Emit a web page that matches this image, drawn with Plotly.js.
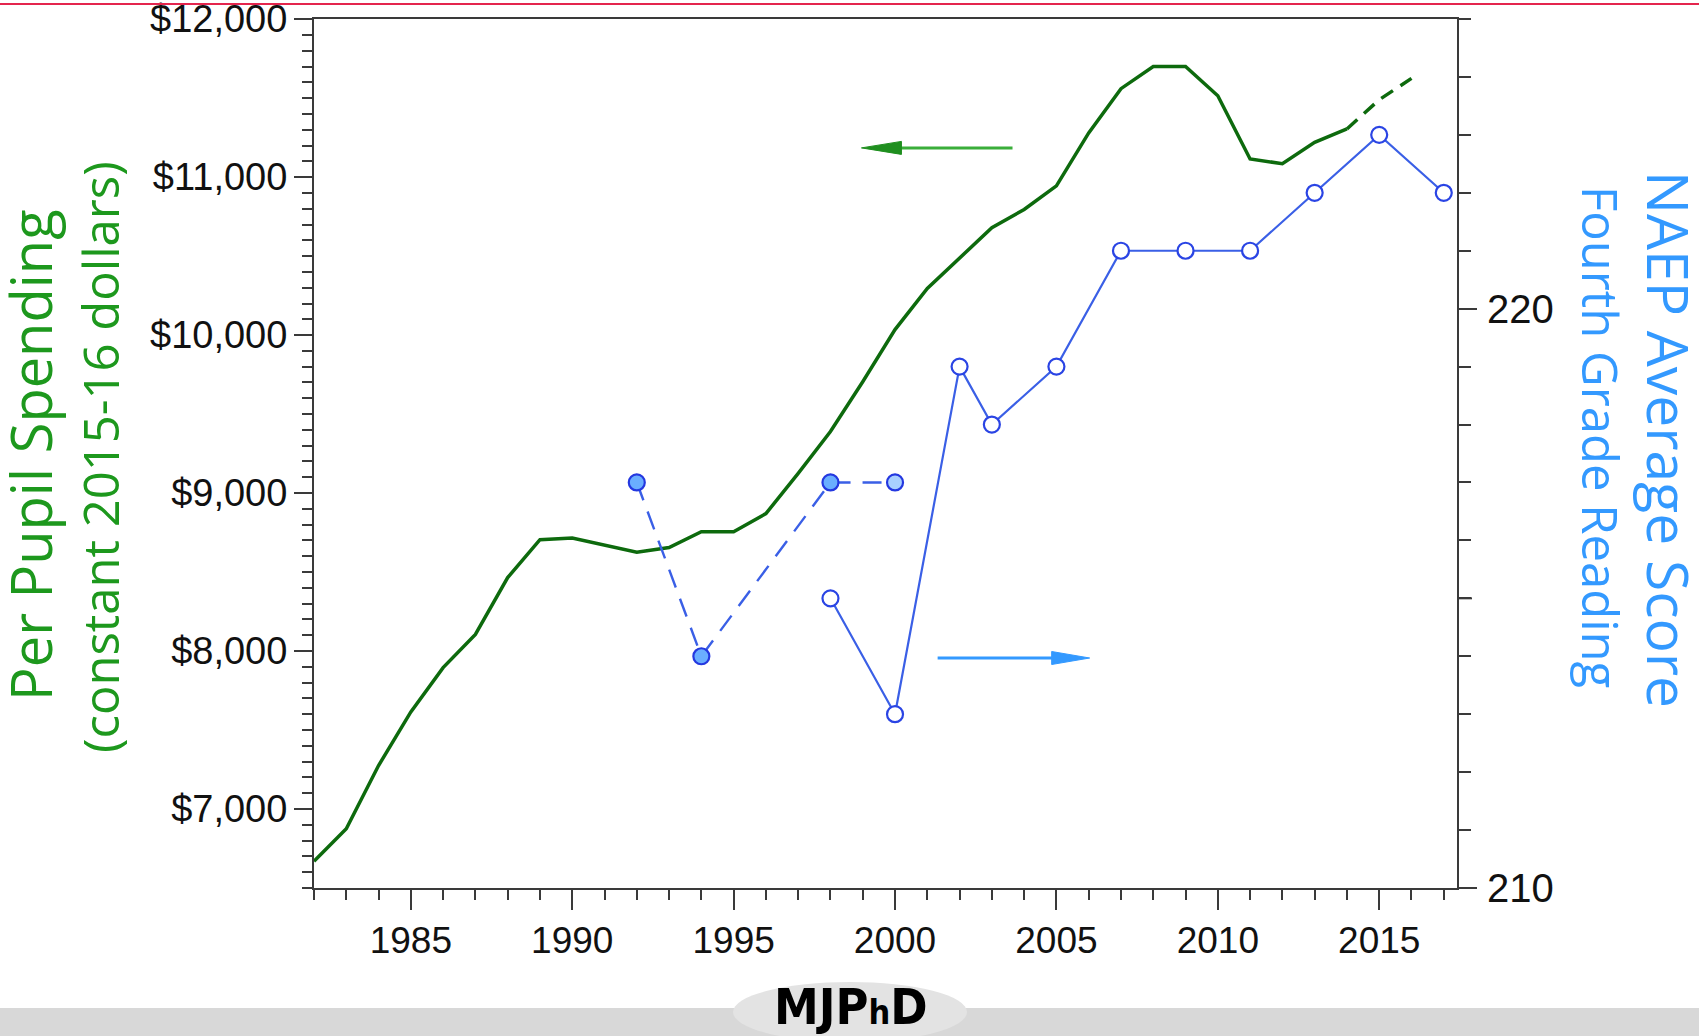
<!DOCTYPE html>
<html>
<head>
<meta charset="utf-8">
<script src="https://cdn.plot.ly/plotly-3.0.1.min.js"></script>
<style>
  html, body { margin: 0; padding: 0; background: #ffffff; }
  #chart { width: 1699px; height: 1036px; }
</style>
</head>
<body>
<div id="chart"></div>
<script>
// ---- data ----
const spendYears = [1982,1983,1984,1985,1986,1987,1988,1989,1990,1991,1992,1993,1994,1995,1996,1997,1998,1999,2000,2001,2002,2003,2004,2005,2006,2007,2008,2009,2010,2011,2012,2013,2014,2015,2016];
const spendValues = [6670,6875,7275,7615,7895,8105,8465,8705,8715,8670,8625,8655,8755,8755,8870,9125,9390,9705,10035,10295,10485,10680,10795,10945,11280,11560,11700,11700,11515,11115,11085,11220,11305,11490,11625];
const solidUntil = 2014;   // solid line through 2014, dashed afterwards

const naepNAYears = [1992,1994,1998,2000];          // accommodations not permitted
const naepNAScores = [217,214,217,217];
const naepYears = [1998,2000,2002,2003,2005,2007,2009,2011,2013,2015,2017]; // accommodations permitted
const naepScores = [215,213,219,218,219,221,221,221,222,223,222];

const leftTickVals = [7000,8000,9000,10000,11000,12000];
const leftTickText = ['$7,000','$8,000','$9,000','$10,000','$11,000','$12,000'];
const xTickVals = [1985,1990,1995,2000,2005,2010,2015];
const rightTickVals = [210,220];

// ---- geometry helpers (page pixels -> paper fractions) ----
const W = 1699, H = 1036;
const L = 314, R = 242, T = 19, B = 148;
const PW = W - L - R, PH = H - T - B;
const px = x => (x - L) / PW;
const py = y => (H - B - y) / PH;

const iSolid = spendYears.indexOf(solidUntil);

const traces = [
  {
    x: spendYears.slice(0, iSolid + 1), y: spendValues.slice(0, iSolid + 1),
    type: 'scatter', mode: 'lines', yaxis: 'y',
    line: {color: '#0d6a0d', width: 3.5}, hoverinfo: 'skip'
  },
  {
    x: spendYears.slice(iSolid), y: spendValues.slice(iSolid),
    type: 'scatter', mode: 'lines', yaxis: 'y',
    line: {color: '#0d6a0d', width: 3.5, dash: '14px,9px'}, hoverinfo: 'skip'
  },
  {
    x: naepNAYears, y: naepNAScores,
    type: 'scatter', mode: 'lines+markers', yaxis: 'y2',
    line: {color: '#3a5fe6', width: 2.4, dash: '19px,12px'},
    marker: {size: 16, color: naepNAYears.map((v, i) => i === naepNAYears.length - 1 ? '#a9d0ff' : '#6aaeff'),
             line: {color: '#2438e0', width: 2.2}},
    hoverinfo: 'skip'
  },
  {
    x: naepYears, y: naepScores,
    type: 'scatter', mode: 'lines+markers', yaxis: 'y2',
    line: {color: '#3a5fe6', width: 2.2},
    marker: {size: 16, color: '#ffffff', line: {color: '#2a44e4', width: 2.2}},
    hoverinfo: 'skip'
  }
];

const tickFamily = 'Liberation Sans, Arial, sans-serif';
const axisColor = '#3a3a3a';

const layout = {
  width: W, height: H,
  margin: {l: L, r: R, t: T, b: B, pad: 0},
  paper_bgcolor: '#ffffff', plot_bgcolor: '#ffffff',
  showlegend: false,
  xaxis: {
    range: [1982, 2017.41], showgrid: false, zeroline: false,
    showline: true, linecolor: axisColor, linewidth: 2, mirror: true,
    tickmode: 'array', tickvals: xTickVals,
    ticks: 'outside', ticklen: 20, tickwidth: 2, tickcolor: axisColor,
    minor: {dtick: 1, tick0: 1982, ticks: 'outside', ticklen: 10, tickwidth: 2, tickcolor: axisColor},
    tickfont: {family: tickFamily, size: 37, color: '#111111'},
    ticklabelstandoff: -1
  },
  yaxis: {
    range: [6500, 12001], showgrid: false, zeroline: false,
    showline: true, linecolor: axisColor, linewidth: 2,
    tickmode: 'array', tickvals: leftTickVals, ticktext: leftTickText,
    ticks: 'outside', ticklen: 18, tickwidth: 2, tickcolor: axisColor,
    minor: {dtick: 100, tick0: 6500, ticks: 'outside', ticklen: 10, tickwidth: 2, tickcolor: axisColor},
    tickfont: {family: tickFamily, size: 38, color: '#111111'},
    ticklabelstandoff: -1, ticklabeloverflow: 'allow'
  },
  yaxis2: {
    range: [210, 225], overlaying: 'y', side: 'right', anchor: 'x',
    showgrid: false, zeroline: false,
    showline: true, linecolor: axisColor, linewidth: 2,
    tickmode: 'array', tickvals: rightTickVals,
    ticks: 'outside', ticklen: 18, tickwidth: 2, tickcolor: axisColor,
    minor: {dtick: 1, tick0: 210, ticks: 'outside', ticklen: 12, tickwidth: 2, tickcolor: axisColor},
    tickfont: {family: tickFamily, size: 40, color: '#111111'},
    ticklabelstandoff: 2
  },
  shapes: [
    // top red rule
    {type: 'line', xref: 'paper', yref: 'paper', x0: px(0), x1: px(W), y0: py(4), y1: py(4),
     line: {color: '#e4254d', width: 2}},
    // bottom grey band
    {type: 'rect', xref: 'paper', yref: 'paper', x0: px(0), x1: px(W), y0: py(1008), y1: py(1040),
     fillcolor: '#d8d8d8', line: {width: 0}},
    // logo ellipse
    {type: 'circle', xref: 'paper', yref: 'paper', x0: px(733), x1: px(967), y0: py(982), y1: py(1042),
     fillcolor: '#e3e3e3', line: {width: 0}},
    // 215 medium tick on right axis
    {type: 'line', xref: 'paper', yref: 'y2', x0: 1, x1: px(L + PW + 15), y0: 215, y1: 215,
     line: {color: axisColor, width: 2}},
    // green arrow (pointing left)
    {type: 'line', xref: 'x', yref: 'y', x0: 2003.64, x1: 1999.6, y0: 11185, y1: 11185,
     line: {color: '#3aae3a', width: 3}},
    {type: 'path', xref: 'x', yref: 'y', xsizemode: 'pixel', ysizemode: 'pixel',
     xanchor: 1998.96, yanchor: 11185, path: 'M0,0 L40,-6.5 L40,6.5 Z',
     fillcolor: '#1f8f1f', line: {color: '#1f8f1f', width: 1}},
    // blue arrow (pointing right)
    {type: 'line', xref: 'x', yref: 'y2', x0: 2001.32, x1: 2005.5, y0: 213.97, y1: 213.97,
     line: {color: '#3399ff', width: 3}},
    {type: 'path', xref: 'x', yref: 'y2', xsizemode: 'pixel', ysizemode: 'pixel',
     xanchor: 2006.03, yanchor: 213.97, path: 'M0,0 L-38,-6.5 L-38,6.5 Z',
     fillcolor: '#3399ff', line: {color: '#3399ff', width: 1}}
  ],
  annotations: [
    {text: 'Per Pupil Spending', xref: 'paper', yref: 'paper', x: px(30), y: py(455),
     showarrow: false, textangle: -90, xanchor: 'center', yanchor: 'middle',
     font: {family: 'Open Sans, Noto Sans, sans-serif', size: 56, color: '#1d981d'}},
    {text: '(constant 2015-16 dollars)', xref: 'paper', yref: 'paper', x: px(100), y: py(457),
     showarrow: false, textangle: -90, xanchor: 'center', yanchor: 'middle',
     font: {family: 'Open Sans, Noto Sans, sans-serif', size: 49, color: '#1d981d'}},
    {text: 'NAEP Average Score', xref: 'paper', yref: 'paper', x: px(1669), y: py(439),
     showarrow: false, textangle: 90, xanchor: 'center', yanchor: 'middle',
     font: {family: 'Open Sans, Noto Sans, sans-serif', size: 57, color: '#3399ff'}},
    {text: 'Fourth Grade Reading', xref: 'paper', yref: 'paper', x: px(1601), y: py(437),
     showarrow: false, textangle: 90, xanchor: 'center', yanchor: 'middle',
     font: {family: 'Open Sans, Noto Sans, sans-serif', size: 49, color: '#3399ff'}},
    {text: '<b>MJP<span style="font-size:34px">h</span>D</b>', xref: 'paper', yref: 'paper',
     x: px(851), y: py(1007), showarrow: false, xanchor: 'center', yanchor: 'middle',
     font: {family: 'DejaVu Sans Condensed, Liberation Sans Narrow, DejaVu Sans, sans-serif', size: 50, color: '#000000'}}
  ]
};

Plotly.newPlot('chart', traces, layout, {displayModeBar: false, staticPlot: true});
</script>
</body>
</html>
